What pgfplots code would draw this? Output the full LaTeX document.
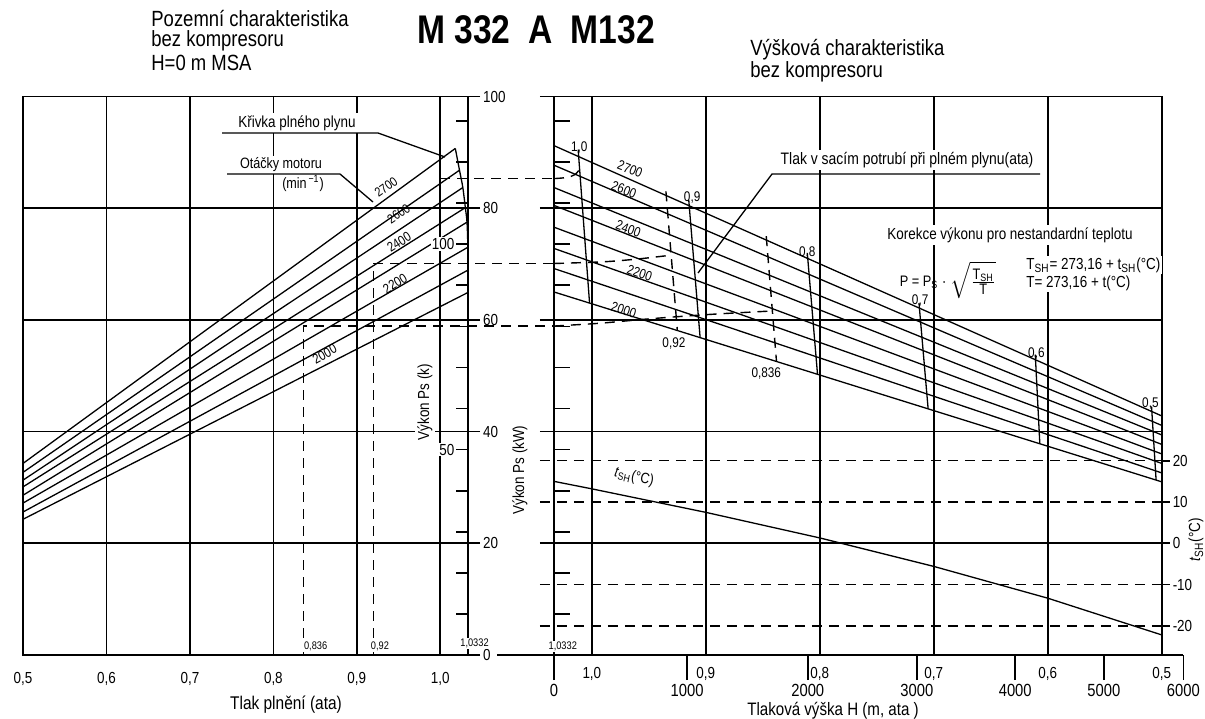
\documentclass[border=0pt]{standalone}
\usepackage{fontspec}
\setmainfont{Liberation Sans}[FakeStretch=0.84]
\usepackage{pgfplots}
\pgfplotsset{compat=1.18}
\tikzset{
  thinl/.style={black, line width=0.65pt},
  gridl/.style={black, line width=0.85pt},
  dashl/.style={black, line width=0.7pt, dash pattern=on 5pt off 3.5pt},
}
\newcommand{\fs}[1]{\fontsize{#1}{#1}\selectfont}
\begin{document}
\begin{tikzpicture}
\path[use as bounding box] (0,0) rectangle (602.5pt,359pt);

% ---------------- left panel: ground characteristic ----------------
\begin{axis}[
  at={(11.5pt,31.5pt)}, anchor=south west, scale only axis,
  width=222.5pt, height=279.25pt,
  xmin=0.5, xmax=1.0332, ymin=0, ymax=100, clip=false,
  axis line style={gridl},
  xtick={0.5,0.6,0.7,0.8,0.9,1.0},
  xticklabels={{0,5},{0,6},{0,7},{0,8},{0,9},{1,0}},
  ytick={0,20,40,60,80,100},
  yticklabels={0,20,40,60,80,100},
  ytick pos=right, xtick pos=bottom,
  xtick style={draw=none}, ytick style={gridl},
  tick align=outside, major tick length=6pt,
  xmajorgrids, ymajorgrids, major grid style={gridl},
  tick label style={font=\fs{8}},
  x tick label style={yshift=1pt},
  y tick label style={xshift=-2pt},
]
% rpm lines 2700 ... 2000
\addplot[thinl] coordinates {(0.5,34.3) (1.018,90.7)};
\addplot[thinl] coordinates {(0.5,32.7) (1.023,86.8)};
\addplot[thinl] coordinates {(0.5,31.3) (1.027,83.7)};
\addplot[thinl] coordinates {(0.5,30.1) (1.030,80.1)};
\addplot[thinl] coordinates {(0.5,28.6) (1.032,77.5)};
\addplot[thinl] coordinates {(0.5,27.2) (1.033,73.0)};
\addplot[thinl] coordinates {(0.5,25.6) (1.033,68.9)};
\addplot[thinl] coordinates {(0.5,24.3) (1.033,64.9)};
% full throttle curve
\addplot[thinl, smooth] coordinates {(1.018,90.7) (1.023,86.8) (1.027,83.7) (1.030,80.1) (1.032,77.5) (1.033,73.0) (1.033,68.9) (1.033,64.9)};
% dashed reference lines
\addplot[dashl] coordinates {(1.0,85.3) (1.1368,85.3)};
\addplot[dashl] coordinates {(0.92,0) (0.92,70.1) (1.1368,70.1)};
\addplot[dashl] coordinates {(0.836,0) (0.836,58.9) (1.1368,58.9)};
% horsepower scale ticks
\pgfplotsinvokeforeach{7.355,14.71,22.07,29.42,36.78,44.13,51.49,58.84,66.20,73.55,80.91,88.26,95.62}{
  \draw[gridl] (axis cs:1.0332,#1) -- (axis cs:1.0187,#1);
}
\node[font=\fs{8}, fill=white, inner sep=0.6pt, anchor=east] at (axis cs:1.0187,73.55) {100};
\node[font=\fs{8}, fill=white, inner sep=0.6pt, anchor=east] at (axis cs:1.0187,36.78) {50};
\node[font=\fs{5.5}, fill=white, inner sep=0.5pt] at (axis cs:0.8506,1.6) {0,836};
\node[font=\fs{5.5}, fill=white, inner sep=0.5pt] at (axis cs:0.9277,1.6) {0,92};
\node[font=\fs{5.5}, fill=white, inner sep=0.5pt] at (axis cs:1.0410,2.1) {1,0332};
% rpm labels
\node[font=\fs{6.5}, rotate=35] at (axis cs:0.9350,83.8) {2700};
\node[font=\fs{6.5}, rotate=34] at (axis cs:0.9500,79.0) {2600};
\node[font=\fs{6.8}, rotate=32] at (axis cs:0.9506,73.9) {2400};
\node[font=\fs{6.8}, rotate=31] at (axis cs:0.9458,66.5) {2200};
\node[font=\fs{6.8}, rotate=29] at (axis cs:0.8614,53.9) {2000};
\end{axis}

% ---------------- right panel: altitude characteristic ----------------
\begin{axis}[
  at={(277pt,31.5pt)}, anchor=south west, scale only axis,
  width=315.3pt, height=279.25pt,
  xmin=0.48, xmax=1.0332, x dir=reverse, ymin=0, ymax=100, clip=false,
  axis line style={draw=none},
  xtick={1.0332,0.91644,0.81059,0.71487,0.62857,0.55086,0.48109},
  xticklabels={0,1000,2000,3000,4000,5000,6000},
  xtick pos=bottom, ytick=\empty,
  tick align=outside, major tick length=12.5pt,
  xtick style={gridl},
  tick label style={font=\fs{8.8}},
  x tick label style={yshift=1.2pt},
  extra x ticks={1.0,0.9,0.8,0.7,0.6,0.5},
  extra x tick labels={{1,0},{0,9},{0,8},{0,7},{0,6},{0,5}},
  extra x tick style={major tick length=0pt, xtick style={draw=none}, grid=none, tick label style={yshift=-4pt, font=\fs{8}}},
]
% frame and grid
\draw[gridl] (axis cs:1.0832,0) -- (axis cs:0.48109,0);
\draw[gridl] (axis cs:1.0332,0) -- (axis cs:1.0332,100);
\draw[gridl] (axis cs:1.0455,100) -- (axis cs:0.5,100);
\draw[gridl] (axis cs:0.5,0) -- (axis cs:0.5,100);
\pgfplotsinvokeforeach{1.0,0.9,0.8,0.7,0.6}{
  \draw[gridl] (axis cs:#1,0) -- (axis cs:#1,100);
}
\pgfplotsinvokeforeach{20,40,60,80}{
  \draw[gridl] (axis cs:1.0455,#1) -- (axis cs:0.5,#1);
}
\pgfplotsinvokeforeach{34.78,27.39,12.61,5.22}{
  \draw[dashl] (axis cs:1.0455,#1) -- (axis cs:0.5,#1);
}
\pgfplotsinvokeforeach{34.78,27.39,20,12.61,5.22}{
  \draw[gridl] (axis cs:0.5,#1) -- (axis cs:0.493,#1);
}
\node[font=\fs{8}, anchor=west, inner sep=1pt] at (axis cs:0.4925,34.78) {20};
\node[font=\fs{8}, anchor=west, inner sep=1pt] at (axis cs:0.4925,27.39) {10};
\node[font=\fs{8}, anchor=west, inner sep=1pt] at (axis cs:0.4925,20) {0};
\node[font=\fs{8}, anchor=west, inner sep=1pt] at (axis cs:0.4925,12.61) {-10};
\node[font=\fs{8}, anchor=west, inner sep=1pt] at (axis cs:0.4925,5.22) {-20};
\pgfplotsinvokeforeach{7.355,14.71,22.07,29.42,36.78,44.13,51.49,58.84,66.20,73.55,80.91,88.26,95.62}{
  \draw[gridl] (axis cs:1.0332,#1) -- (axis cs:1.0192,#1);
}
% rpm lines 2700 ... 2000
\addplot[thinl] coordinates {(1.0332,91.2) (0.5,42.8)};
\addplot[thinl] coordinates {(1.0332,87.7) (0.5,41.1)};
\addplot[thinl] coordinates {(1.0332,83.7) (0.5,39.4)};
\addplot[thinl] coordinates {(1.0332,80.5) (0.5,37.7)};
\addplot[thinl] coordinates {(1.0332,76.6) (0.5,36.0)};
\addplot[thinl] coordinates {(1.0332,72.8) (0.5,34.3)};
\addplot[thinl] coordinates {(1.0332,69.2) (0.5,32.6)};
\addplot[thinl] coordinates {(1.0332,65.0) (0.5,31.0)};
% manifold pressure at full throttle
\addplot[thinl] coordinates {(1.012,90.5) (1.002,63.0)};
\addplot[dashl] coordinates {(0.935,83.0) (0.925,58.1)};
\addplot[thinl] coordinates {(0.915,81.5) (0.905,56.8)};
\addplot[dashl] coordinates {(0.847,75.0) (0.838,52.5)};
\addplot[thinl] coordinates {(0.811,72.0) (0.802,50.2)};
\addplot[thinl] coordinates {(0.713,63.0) (0.705,44.1)};
\addplot[thinl] coordinates {(0.611,53.8) (0.607,37.8)};
\addplot[thinl] coordinates {(0.509,44.5) (0.505,31.3)};
% dashed connectors from ground chart
\addplot[dashl, smooth] coordinates {(1.0332,85.3) (1.022,85.5) (1.015,86.0) (1.0105,87.0)};
\addplot[dashl, smooth] coordinates {(1.0332,70.1) (0.99,70.4) (0.96,70.9) (0.930,71.6)};
\addplot[dashl, smooth] coordinates {(1.0332,58.9) (0.993,59.4) (0.949,60.2) (0.895,61.0) (0.8414,61.6)};
% standard atmosphere temperature (t scale: kW = 20 + 0.739 t)
\addplot[thinl] coordinates {(1.0332,31.09) (1.0,29.75) (0.9,25.54) (0.8,20.96) (0.7,15.86) (0.6,10.17) (0.5,3.59)};
\node[font=\fs{5.5}, fill=white, inner sep=0.5pt] at (axis cs:1.0255,1.6) {1,0332};
% rpm labels
\node[font=\fs{6.8}, rotate=-22] at (axis cs:0.9665,87.0) {2700};
\node[font=\fs{6.8}, rotate=-21] at (axis cs:0.9718,83.3) {2600};
\node[font=\fs{6.8}, rotate=-20] at (axis cs:0.968,76.3) {2400};
\node[font=\fs{6.8}, rotate=-19] at (axis cs:0.958,68.4) {2200};
\node[font=\fs{6.8}, rotate=-18] at (axis cs:0.972,61.8) {2000};
% manifold pressure labels
\node[font=\fs{7}] at (axis cs:1.011,90.8) {1,0};
\node[font=\fs{7}] at (axis cs:0.912,82.0) {0,9};
\node[font=\fs{7}] at (axis cs:0.928,55.8) {0,92};
\node[font=\fs{7}] at (axis cs:0.847,50.4) {0,836};
\node[font=\fs{7}] at (axis cs:0.811,72.1) {0,8};
\node[font=\fs{7}] at (axis cs:0.712,63.5) {0,7};
\node[font=\fs{7}] at (axis cs:0.610,54.0) {0,6};
\node[font=\fs{7}] at (axis cs:0.510,45.1) {0,5};
\end{axis}

% ---------------- texts and leader lines (pixel grid) ----------------
\begin{scope}[x=0.5pt, y=-0.5pt, yshift=359pt]
\node[font=\fs{11}, anchor=west, inner sep=0pt] at (151,19) {Pozemní charakteristika};
\node[font=\fs{11}, anchor=west, inner sep=0pt] at (151,41) {bez kompresoru};
\node[font=\fs{11}, anchor=west, inner sep=0pt] at (151,63) {H=0 m MSA};
\node[font=\fs{20}\bfseries, inner sep=0pt] at (536,30) {M 332\hspace{0.45em}A\hspace{0.45em}M132};
\node[font=\fs{11}, anchor=west, inner sep=0pt] at (750,50) {Výšková charakteristika};
\node[font=\fs{11}, anchor=west, inner sep=0pt] at (750,72) {bez kompresoru};

\node[font=\fs{8}, fill=white, inner sep=1pt] at (297,123) {Křivka plného plynu};
\draw[thinl] (222,133) -- (378,133) -- (445,157);
\node[font=\fs{7.5}, fill=white, inner sep=1pt] at (281,165) {Otáčky motoru};
\node[font=\fs{7.5}, inner sep=0pt] at (303,183) {(min\textsuperscript{\,−1})};
\draw[thinl] (227,174) -- (340,174) -- (373,202);

\node[font=\fs{8.3}, fill=white, inner sep=1pt] at (907,160) {Tlak v sacím potrubí při plném plynu(ata)};
\draw[thinl] (1040,174) -- (772,174) -- (698,273);

\node[font=\fs{8}, fill=white, inner sep=1pt] at (1010,235) {Korekce výkonu pro nestandardní teplotu};
\node[font=\fs{7.6}, inner sep=0pt] at (948,280) {P = P\textsubscript{S} $\cdot$ $\sqrt{\frac{\mbox{\fs{7.6}T\textsubscript{SH}}}{\mbox{\fs{7.6}T}}}$};
\node[font=\fs{8}, fill=white, anchor=west, inner sep=1pt] at (1024,265) {T\textsubscript{SH}= 273,16 + t\textsubscript{SH}(°C)};
\node[font=\fs{8}, fill=white, anchor=west, inner sep=1pt] at (1024,283) {T= 273,16 + t(°C)};

\node[font=\fs{8}, rotate=90, fill=white, inner sep=1pt] at (425,402) {Výkon Ps (k)};
\node[font=\fs{8}, rotate=90, inner sep=0pt] at (520,470) {Výkon Ps (kW)};
\node[font=\fs{8}, rotate=90, inner sep=0pt] at (1196,540) {\textit{t}\textsubscript{SH}(°C)};
\node[font=\fs{7.5}, rotate=-12, inner sep=0pt] at (634,477) {\textit{t}\textsubscript{SH}(°C)};

\node[font=\fs{9.2}, inner sep=0pt] at (286,705) {Tlak plnění (ata)};
\node[font=\fs{9}, inner sep=0pt] at (833,711) {Tlaková výška H (m, ata )};
\end{scope}
\end{tikzpicture}
\end{document}
